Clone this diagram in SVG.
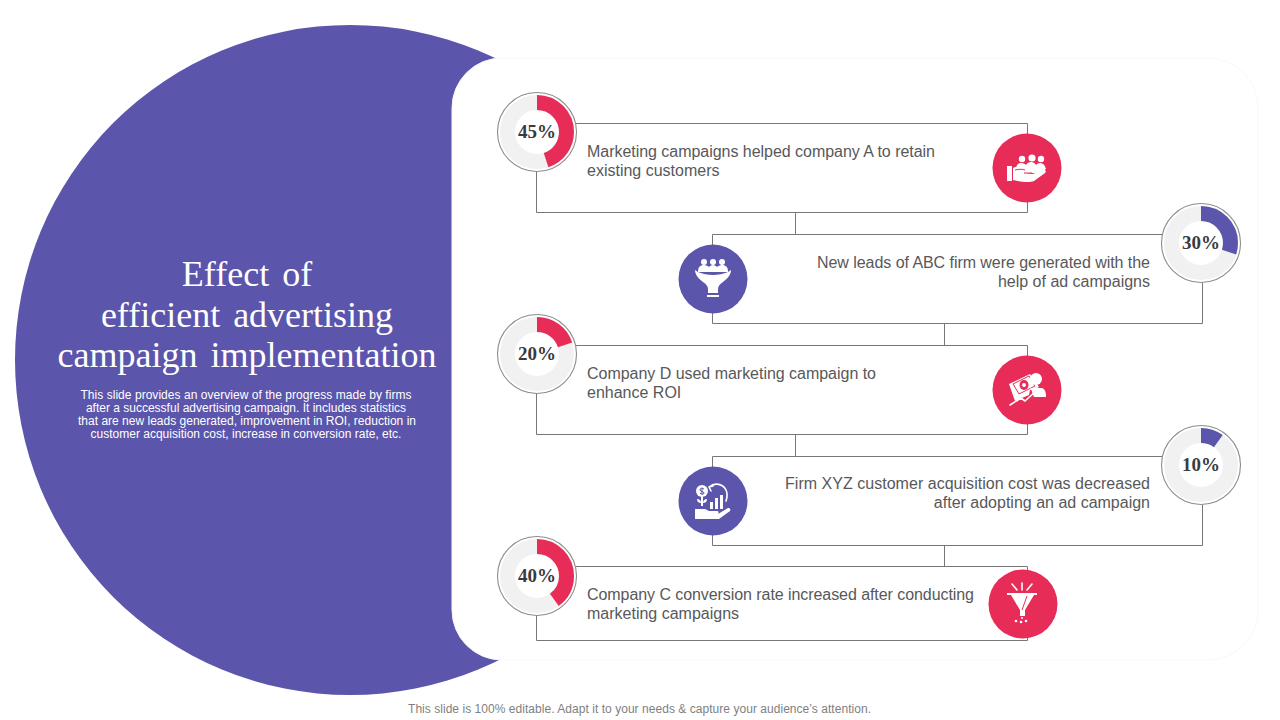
<svg xmlns="http://www.w3.org/2000/svg" width="1280" height="720" viewBox="0 0 1280 720">
<style>
.body{font-family:"Liberation Sans",Arial,sans-serif;font-size:16px;fill:#58585a}
.pct{font-family:"Liberation Serif","Times New Roman",serif;font-size:19px;font-weight:700;fill:#3a3a3c;text-anchor:middle}
.title{font-family:"Liberation Serif","Times New Roman",serif;font-size:36px;fill:#fff;text-anchor:middle;word-spacing:4px}
.sub{font-family:"Liberation Sans",Arial,sans-serif;font-size:12px;fill:#fff;text-anchor:middle}
.foot{font-family:"Liberation Sans",Arial,sans-serif;font-size:12px;fill:#7f7f7f;text-anchor:middle}
.wire{fill:none;stroke:#77777a;stroke-width:1}
.rim{fill:#fff;stroke:#8c8c8e;stroke-width:1.1}
.track{fill:none;stroke:#f1f1f2;stroke-width:15}
.arc{fill:none;stroke-width:15}
.pink{stroke:#e82c58}.blue{stroke:#5b55ab}
.dp{fill:#e82c58}.db{fill:#5b55ab}
.w{fill:#fff}.wl{fill:none;stroke:#fff;stroke-width:1.6;stroke-linecap:round;stroke-linejoin:round}
.cp{fill:none;stroke:#e82c58;stroke-width:1}.cb{fill:none;stroke:#5b55ab;stroke-width:1}
.e{text-anchor:end}
</style>
<rect width="1280" height="720" fill="#fff"/>
<circle id="backdrop-circle" cx="350" cy="360" r="335" fill="#5b55ab"/>
<rect id="panel" x="452" y="58" width="806" height="602" rx="50" fill="#fff" stroke="#f8f8fa" stroke-width="1"/>
<g id="heading">
<text class="title" x="247" y="286">Effect of</text>
<text class="title" x="247" y="327">efficient advertising</text>
<text class="title" x="247" y="367">campaign implementation</text>
<text class="sub" x="246" y="399" textLength="331">This slide provides an overview of the progress made by firms</text>
<text class="sub" x="246" y="412">after a successful advertising campaign. It includes statistics</text>
<text class="sub" x="247" y="425" textLength="338">that are new leads generated, improvement in ROI, reduction in</text>
<text class="sub" x="246" y="438">customer acquisition cost, increase in conversion rate, etc.</text>
</g>
<g id="connectors">
<path class="wire" d="M576 123.500H1027.500V134M1027.500 202V212.500H536.500V172"/>
<path class="wire" d="M795.500 212V234"/>
<path class="wire" d="M1162 234.500H712.500V245M712.500 313V323.500H1202.500V283"/>
<path class="wire" d="M944.500 323V345"/>
<path class="wire" d="M576 345.500H1027.500V356M1027.500 424V434.500H536.500V393"/>
<path class="wire" d="M795.500 434V456"/>
<path class="wire" d="M1162 456.500H712.500V467M712.500 535V545.500H1202.500V505"/>
<path class="wire" d="M944.500 545V566"/>
<path class="wire" d="M576 566.500H1027.500V570M1027.500 638V640.500H536.500V615"/>
</g>
<g id="step-1">
<circle class="rim" cx="537" cy="132" r="39.500"/><circle class="track" cx="537" cy="132" r="29.500"/>
<circle class="arc pink" cx="537" cy="132" r="29.500" pathLength="100" stroke-dasharray="45 100" transform="rotate(-90 537 132)"/>
<text class="pct" x="537" y="138">45%</text>
<text class="body" x="587" y="157" textLength="348">Marketing campaigns helped company A to retain</text>
<text class="body" x="587" y="176">existing customers</text>
<circle class="dp" cx="1027" cy="168" r="34.500"/>
<g><circle class="w" cx="1022" cy="159" r="3.200"/><circle class="w" cx="1032" cy="158" r="3.600"/><circle class="w" cx="1041" cy="159" r="3.200"/>
<path class="w" d="M1016 170c0-5 2-7 5-7s4 1 5 2c1-2 3-3 5-3s4 1 5 3c1-1 2-2 4-2 3 0 5 2 6 6l-7 4h-15z"/>
<path class="w" d="M1007 166h5v15h-5z"/><path class="w" d="M1013 168c4-2 8-2 12 0l7 1c2 1 2 4-1 4h-6l8 1 9-4c3-1 5 1 3 3l-11 8c-5 2-12 1-21-1z"/>
<path class="cp" d="M1024 173h8M1015 170c4-1 7-1 10 0"/></g>
</g>
<g id="step-2">
<circle class="rim" cx="1201" cy="243" r="39.500"/><circle class="track" cx="1201" cy="243" r="29.500"/>
<circle class="arc blue" cx="1201" cy="243" r="29.500" pathLength="100" stroke-dasharray="30 100" transform="rotate(-90 1201 243)"/>
<text class="pct" x="1201" y="249">30%</text>
<text class="body e" x="1150" y="268" textLength="333">New leads of ABC firm were generated with the</text>
<text class="body e" x="1150" y="287">help of ad campaigns</text>
<circle class="db" cx="713" cy="279" r="34.500"/>
<g><circle class="w" cx="704" cy="262" r="3"/><circle class="w" cx="713" cy="262" r="3"/><circle class="w" cx="722" cy="262" r="3"/>
<path class="w" d="M698 272c0-5 2-7 6-7 2 0 4 1 5 2 1-1 2-2 4-2s3 1 4 2c1-1 3-2 5-2 4 0 6 2 6 7z"/>
<path class="w" d="M695 270l3 2c9 4 21 4 30 0l3-2c0 5-4 9-8 12-3 2-5 4-5 7v4h-10v-4c0-3-2-5-5-7-4-3-8-7-8-12z"/><rect class="w" x="707" y="295" width="12" height="2"/></g>
</g>
<g id="step-3">
<circle class="rim" cx="537" cy="354" r="39.500"/><circle class="track" cx="537" cy="354" r="29.500"/>
<circle class="arc pink" cx="537" cy="354" r="29.500" pathLength="100" stroke-dasharray="20 100" transform="rotate(-90 537 354)"/>
<text class="pct" x="537" y="360">20%</text>
<text class="body" x="587" y="379" textLength="289">Company D used marketing campaign to</text>
<text class="body" x="587" y="398">enhance ROI</text>
<circle class="dp" cx="1027" cy="390" r="34.500"/>
<g><path class="w" d="M1009 384l21-10 9 13-6 3-3 0-1 5-14 6z"/><path class="cp" d="M1013 384l16-8 6 10-16 8z"/><ellipse class="dp" cx="1024" cy="385" rx="4.500" ry="5"/><circle class="w" cx="1024" cy="385" r="2"/>
<circle class="w" cx="1036" cy="379" r="6"/><path class="w" d="M1031 388h11c3 1 4 4 4 9h-12l-2-5z"/>
<path class="cp" d="M1009 406l12-8 4 3 11-10" stroke-width="3.500"/>
<path class="wl" d="M1010 405l11-7 4 3 11-10M1031 389l6 1-1 6"/></g>
</g>
<g id="step-4">
<circle class="rim" cx="1201" cy="465" r="39.500"/><circle class="track" cx="1201" cy="465" r="29.500"/>
<circle class="arc blue" cx="1201" cy="465" r="29.500" pathLength="100" stroke-dasharray="10 100" transform="rotate(-90 1201 465)"/>
<text class="pct" x="1201" y="471">10%</text>
<text class="body e" x="1150" y="489" textLength="365">Firm XYZ customer acquisition cost was decreased</text>
<text class="body e" x="1150" y="508">after adopting an ad campaign</text>
<circle class="db" cx="713" cy="501" r="34.500"/>
<g><circle class="w" cx="702" cy="491" r="6"/><path class="cb" d="M702 487.500v7M704 489c-2-1-4-1-4 1s4 1 4 3-3 1-4 0"/><path class="w" d="M701 497h2v9h-2z"/><path class="w" d="M697 499c2 0 4 1 4 4-2 0-4-1-4-4zM707 499c-2 0-4 1-4 4 2 0 4-1 4-4z"/><path class="w" d="M710 502h3v7h-3zM715 498h3v11h-3zM720 495h3v14h-3z"/>
<path class="wl" d="M709 487c6-5 14-3 17 3 2 4 1 8 0 11M709 487l4-1M709 487l2 4"/>
<path class="w" d="M695 509h10l4 2h8c2 0 2 2 1 3l10-6c2 0 3 1 2 3l-11 8h-24z"/></g>
</g>
<g id="step-5">
<circle class="rim" cx="537" cy="576" r="39.500"/><circle class="track" cx="537" cy="576" r="29.500"/>
<circle class="arc pink" cx="537" cy="576" r="29.500" pathLength="100" stroke-dasharray="40 100" transform="rotate(-90 537 576)"/>
<text class="pct" x="537" y="582">40%</text>
<text class="body" x="587" y="600" textLength="387">Company C conversion rate increased after conducting</text>
<text class="body" x="587" y="619">marketing campaigns</text>
<circle class="dp" cx="1023" cy="604" r="34.500"/>
<g><path class="w" d="M1007 593h30v2h-3l-9 15v6h-5v-6l-9-15h-4z"/><path class="cp" d="M1027 596l-5 14"/>
<path class="wl" d="M1022 583v7M1012 584l5 6M1032 584l-5 6"/>
<circle class="w" cx="1016" cy="621" r="1.300"/><circle class="w" cx="1021" cy="622" r="1.300"/><circle class="w" cx="1026" cy="621" r="1.300"/><circle class="w" cx="1022" cy="618" r="1"/></g>
</g>
<text id="footer" class="foot" x="639.500" y="713" textLength="463">This slide is 100% editable. Adapt it to your needs &amp; capture your audience’s attention.</text>
</svg>
